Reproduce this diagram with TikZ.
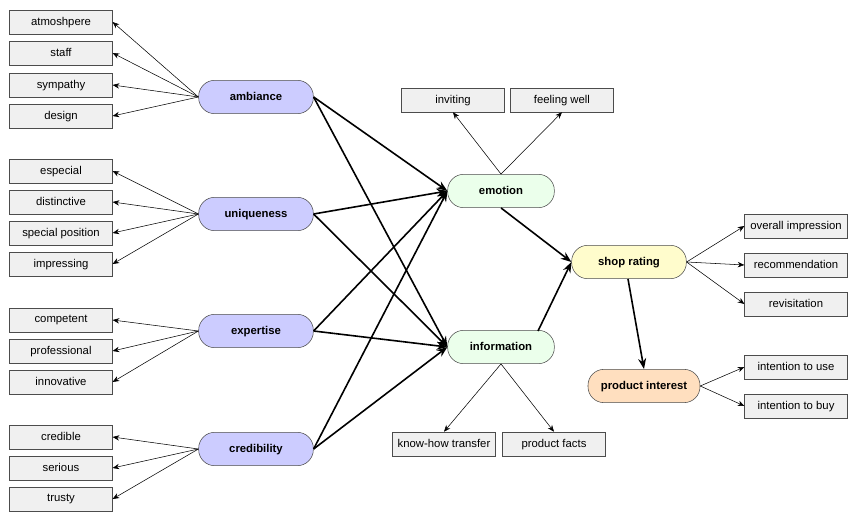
\documentclass[tikz,border=0pt]{standalone}
\usepackage{fontspec}
\setmainfont{Liberation Sans}
\usetikzlibrary{arrows.meta}
\begin{document}
\begin{tikzpicture}[x=0.75pt,y=-0.75pt,
  item/.style={draw=black!70, fill=black!6, minimum width=77pt, minimum height=18pt, inner sep=0pt, text depth=1.5pt, font=\fontsize{8.5}{10}\selectfont},
  latent/.style={draw=black!70, rounded corners=12pt, minimum width=86pt, minimum height=25pt, inner sep=0pt, text depth=1.5pt, font=\fontsize{8.5}{10}\selectfont\bfseries},
  thin/.style={-{Stealth[length=5pt,width=4pt]}, black},
  thick/.style={-{Stealth[length=8pt,width=6pt]}, line width=1.2pt}]

\useasboundingbox (0,0) rectangle (858,517);

\def\xl{61}; % left column
\def\xr{796}; % right column

% latent variables
\node[latent, fill=blue!20] (amb) at (256,97) {ambiance};
\node[latent, fill=blue!20] (uni) at (256,214) {uniqueness};
\node[latent, fill=blue!20] (exp) at (256,331) {expertise};
\node[latent, fill=blue!20] (cred) at (256,449) {credibility};
\node[latent, fill=green!8, minimum width=80pt] (emo) at (501,191) {emotion};
\node[latent, fill=green!8, minimum width=80pt] (inf) at (501,347) {information};
\node[latent, fill=yellow!20] (shop) at (629,262) {shop rating};
\node[latent, fill=orange!25, minimum width=84pt] (prod) at (644,386) {product interest};

% indicators left
\foreach \n/\y/\t/\s in {a1/22/atmoshpere/amb, a2/53/staff/amb, a3/85/sympathy/amb, a4/116/design/amb,
  u1/171/especial/uni, u2/202/distinctive/uni, u3/233/special position/uni, u4/264/impressing/uni,
  e1/320/competent/exp, e2/351/professional/exp, e3/382/innovative/exp,
  c1/437/credible/cred, c2/468/serious/cred, c3/499/trusty/cred} {
  \node[item] (\n) at (\xl,\y) {\t};
  \draw[thin] (\s.west) -- (\n.east);
}

% indicators right
\foreach \n/\y/\t/\s in {s1/226/overall impression/shop, s2/265/recommendation/shop, s3/304/revisitation/shop,
  p1/367/intention to use/prod, p2/406/intention to buy/prod} {
  \node[item] (\n) at (\xr,\y) {\t};
  \draw[thin] (\s.east) -- (\n.west);
}

% emotion / information indicators
\node[item] (inv) at (453,100) {inviting};
\node[item] (fw) at (562,100) {feeling well};
\node[item] (know) at (444,444) {know-how transfer};
\node[item] (fact) at (554,444) {product facts};
\draw[thin] (emo.north) -- (inv.south);
\draw[thin] (emo.north) -- (fw.south);
\draw[thin] (inf.south) -- (know.north);
\draw[thin] (inf.south) -- (fact.north);

% structural paths
\foreach \s in {amb,uni,exp,cred} {
  \draw[thick] (\s.east) -- (emo.west);
  \draw[thick] (\s.east) -- (inf.west);
}
\coordinate (sb) at (628,279);
\coordinate (ir) at (538,331);
\draw[thick] (emo.south) -- (shop.west);
\draw[thick] (ir) -- (shop.west);
\draw[thick] (sb) -- (prod.north);

\end{tikzpicture}
\end{document}
